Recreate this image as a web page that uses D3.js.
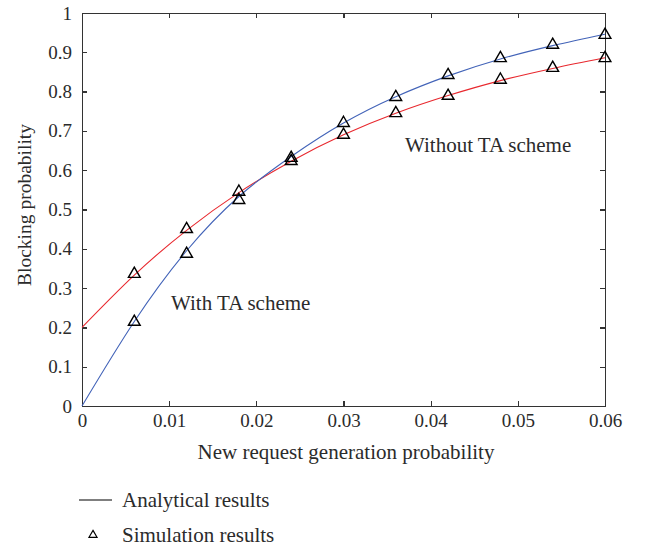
<!DOCTYPE html>
<html>
<head>
<meta charset="utf-8">
<script src="https://d3js.org/d3.v7.min.js"></script>
<style>
    body {
        margin: 0;
        background-color: #ffffff;
    }

    svg text {
        font-family: "Liberation Serif", "Times New Roman", serif;
        fill: #2b2b2b;
    }

    .axis path,
    .axis line {
        fill: none;
        stroke: #333333;
        stroke-width: 1.3px;
        shape-rendering: crispEdges;
    }

    .axis text {
        font-size: 19px;
    }

    .label {
        font-size: 21px;
    }
</style>
</head>
<body>
<svg width="654" height="550"></svg>
<script>
    // probability values along the x axis
    var xValues = [0, 0.006, 0.012, 0.018, 0.024, 0.030, 0.036, 0.042, 0.048, 0.054, 0.060];

    // analytical curves
    var withTA = [0, 0.215, 0.395, 0.533, 0.635, 0.72, 0.787, 0.84, 0.883, 0.917, 0.946];
    var withoutTA = [0.2, 0.333, 0.447, 0.543, 0.623, 0.69, 0.745, 0.79, 0.828, 0.859, 0.886];

    // simulation results (triangles), x = 0.006 .. 0.06
    var simX = [0.006, 0.012, 0.018, 0.024, 0.030, 0.036, 0.042, 0.048, 0.054, 0.060];
    var simWithTA = [0.214, 0.387, 0.524, 0.631, 0.72, 0.786, 0.842, 0.885, 0.919, 0.944];
    var simWithoutTA = [0.336, 0.45, 0.545, 0.623, 0.69, 0.745, 0.789, 0.83, 0.86, 0.885];

    var xTicks = [0, 0.01, 0.02, 0.03, 0.04, 0.05, 0.06];
    var yTicks = [0, 0.1, 0.2, 0.3, 0.4, 0.5, 0.6, 0.7, 0.8, 0.9, 1];

    var svg = d3.select("svg"),
        margin = {top: 13, right: 49, bottom: 144, left: 82},
        width = +svg.attr("width") - margin.left - margin.right,
        height = +svg.attr("height") - margin.top - margin.bottom;

    var x = d3.scaleLinear().domain([0, 0.06]).range([0, width]);
    var y = d3.scaleLinear().domain([0, 1]).range([height, 0]);

    var g = svg.append("g")
        .attr("transform", "translate(" + margin.left + "," + margin.top + ")");

    var fmtX = function (d) { return d === 0 ? "0" : d.toFixed(2); };
    var fmtY = function (d) { return (d === 0 || d === 1) ? String(d) : d.toFixed(1); };

    // box with inward ticks
    g.append("g")
        .attr("class", "axis")
        .attr("transform", "translate(0," + height + ")")
        .call(d3.axisBottom(x).tickValues(xTicks).tickFormat(fmtX).tickSizeInner(-5).tickSizeOuter(0).tickPadding(8));

    g.append("g")
        .attr("class", "axis")
        .call(d3.axisTop(x).tickValues(xTicks).tickFormat("").tickSizeInner(-5).tickSizeOuter(0));

    g.append("g")
        .attr("class", "axis")
        .call(d3.axisLeft(y).tickValues(yTicks).tickFormat(fmtY).tickSizeInner(-5).tickSizeOuter(0).tickPadding(10));

    g.append("g")
        .attr("class", "axis")
        .attr("transform", "translate(" + width + ",0)")
        .call(d3.axisRight(y).tickValues(yTicks).tickFormat("").tickSizeInner(-5).tickSizeOuter(0));

    // analytical curves
    var line = d3.line()
        .x(function (d) { return x(d[0]); })
        .y(function (d) { return y(d[1]); })
        .curve(d3.curveNatural);

    g.append("path")
        .datum(d3.zip(xValues, withoutTA))
        .attr("d", line)
        .attr("fill", "none")
        .attr("stroke", "#e8282e")
        .attr("stroke-width", 1.1);

    g.append("path")
        .datum(d3.zip(xValues, withTA))
        .attr("d", line)
        .attr("fill", "none")
        .attr("stroke", "#4263b8")
        .attr("stroke-width", 1.1);

    // simulation triangles
    var tri = d3.symbol().type(d3.symbolTriangle).size(60);

    [simWithTA, simWithoutTA].forEach(function (series) {
        g.selectAll(null)
            .data(d3.zip(simX, series))
            .enter().append("path")
            .attr("d", tri)
            .attr("transform", function (d) {
                return "translate(" + x(d[0]) + "," + y(d[1]) + ")";
            })
            .attr("fill", "none")
            .attr("stroke", "#000000")
            .attr("stroke-width", 1.4);
    });

    // annotations
    svg.append("text")
        .attr("class", "label")
        .attr("x", 405).attr("y", 152)
        .text("Without TA scheme");

    svg.append("text")
        .attr("class", "label")
        .attr("x", 171).attr("y", 310)
        .text("With TA scheme");

    // axis titles
    svg.append("text")
        .attr("class", "label")
        .attr("x", 346).attr("y", 459)
        .attr("text-anchor", "middle")
        .text("New request generation probability");

    svg.append("text")
        .attr("transform", "translate(31,205) rotate(-90)")
        .attr("text-anchor", "middle")
        .style("font-size", "19.5px")
        .text("Blocking probability");

    // legend
    svg.append("line")
        .attr("x1", 79).attr("x2", 112)
        .attr("y1", 500).attr("y2", 500)
        .attr("stroke", "#000000")
        .attr("stroke-width", 1.1);

    svg.append("text")
        .attr("class", "label")
        .attr("x", 122).attr("y", 507)
        .text("Analytical results");

    svg.append("path")
        .attr("d", d3.symbol().type(d3.symbolTriangle).size(28))
        .attr("transform", "translate(93,535)")
        .attr("fill", "none")
        .attr("stroke", "#000000")
        .attr("stroke-width", 1.2);

    svg.append("text")
        .attr("class", "label")
        .attr("x", 122).attr("y", 542)
        .text("Simulation results");
</script>
</body>
</html>
